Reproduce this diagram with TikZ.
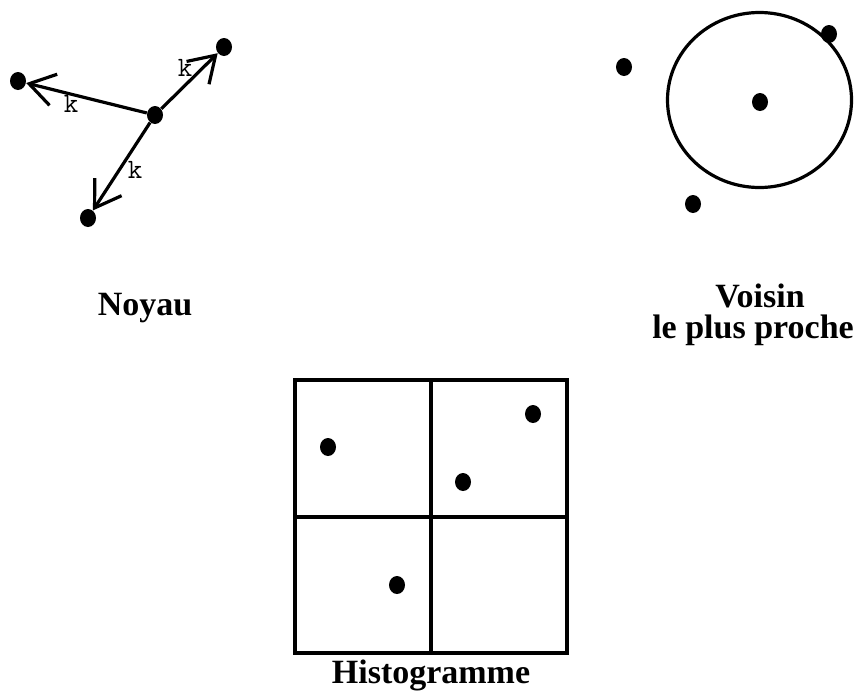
\documentclass[tikz,border=0pt]{standalone}
\usepackage{fontspec}
\setmainfont{Liberation Serif}
\usetikzlibrary{arrows.meta,shapes.geometric}
\tikzset{
  dot/.style={ellipse,fill=black,inner sep=0pt,minimum width=8pt,minimum height=9pt},
  ring/.style={ellipse,draw=black,line width=1.6pt,minimum width=92pt,minimum height=87.5pt},
  arr/.style={-{Straight Barb[length=12.5pt,width=16pt]},line width=1.6pt},
  grid/.style={line width=1.6pt},
  klab/.style={font=\ttfamily\fontsize{14}{14}\selectfont},
  title/.style={font=\bfseries\fontsize{17}{20}\selectfont,anchor=base},
}

\begin{document}
\begin{tikzpicture}[x=0.5pt,y=-0.5pt]
  \useasboundingbox (0,0) rectangle (855,691);
  % noyau
  \node[dot] (c) at (155,115) {};
  \node[dot] (l) at (18,81) {};
  \node[dot] (u) at (224,47) {};
  \node[dot] (b) at (88,218) {};
  \draw[arr] (c) -- (l);
  \draw[arr] (c) -- (u);
  \draw[arr] (c) -- (b);
  \node[klab] (k1) at (71,104) {k};
  \node[klab] (k2) at (185,68) {k};
  \node[klab] (k3) at (135,170) {k};
  \node[title] (noyau) at (145,315) {Noyau};
  % voisin le plus proche
  \node[ring] (r) at (759.5,100) {};
  \node[dot] (q) at (760,102) {};
  \node[dot] (q1) at (829,34) {};
  \node[dot] (q2) at (624,67) {};
  \node[dot] (q3) at (693,204) {};
  \node[title] (voisin) at (760,307) {Voisin};
  \node[title] (proche) at (753,338) {le plus proche};
  % histogramme
  \draw[grid] (295,380) rectangle (567,653);
  \draw[grid] (431,380) -- (431,653);
  \draw[grid] (295,517) -- (567,517);
  \node[dot] (h1) at (328,447) {};
  \node[dot] (h2) at (533,414) {};
  \node[dot] (h3) at (463,482) {};
  \node[dot] (h4) at (397,585) {};
  \node[title] (histo) at (431,683) {Histogramme};
\end{tikzpicture}
\end{document}
